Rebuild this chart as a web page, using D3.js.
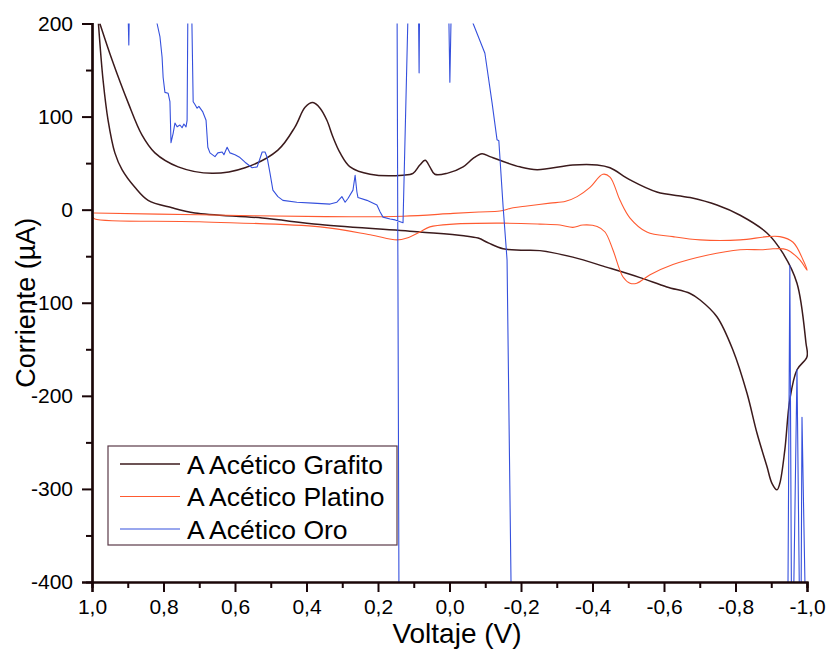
<!DOCTYPE html>
<html>
<head>
<meta charset="utf-8">
<script src="https://cdn.jsdelivr.net/npm/d3@7"></script>
<style>
  body { margin: 0; background: #fff; }
  svg { display: block; font-family: "Liberation Sans", Arial, sans-serif; }
</style>
</head>
<body>
<div class="graphic"></div>
<script>
// series names
const seriesNames = ["A Acético Grafito", "A Acético Platino", "A Acético Oro"];

// axis ticks
const xTicks = [1.0, 0.8, 0.6, 0.4, 0.2, 0.0, -0.2, -0.4, -0.6, -0.8, -1.0];
const xMinor = [0.9, 0.7, 0.5, 0.3, 0.1, -0.1, -0.3, -0.5, -0.7, -0.9];
const yTicks = [200, 100, 0, -100, -200, -300, -400];
const yMinor = [150, 50, -50, -150, -250, -350];

// Grafito: [voltage V, current uA]
const grafito = [
  [0.978, 200], [0.944, 161], [0.899, 115], [0.860, 80], [0.824, 61], [0.759, 46], [0.664, 39],
  [0.572, 45], [0.480, 64], [0.432, 89], [0.404, 110], [0.382, 115], [0.362, 109], [0.343, 96],
  [0.326, 78], [0.306, 61], [0.278, 46], [0.222, 38], [0.130, 37], [0.102, 39], [0.083, 48],
  [0.068, 53], [0.055, 46], [0.041, 38], [0.007, 39], [-0.038, 46], [-0.066, 55], [-0.091, 60],
  [-0.113, 57], [-0.141, 53], [-0.197, 46], [-0.245, 43], [-0.345, 48], [-0.413, 48],
  [-0.449, 45], [-0.505, 32], [-0.580, 19], [-0.673, 13], [-0.748, 5], [-0.813, -6],
  [-0.888, -25], [-0.933, -47], [-0.972, -79], [-0.997, -143], [-1.0, -158],
  [-0.972, -172], [-0.952, -204], [-0.938, -258], [-0.924, -294], [-0.916, -301],
  [-0.902, -294], [-0.888, -276], [-0.860, -240], [-0.832, -197], [-0.793, -151],
  [-0.748, -115], [-0.701, -97], [-0.673, -90], [-0.608, -83], [-0.533, -73], [-0.441, -62],
  [-0.345, -51], [-0.253, -44], [-0.200, -43.5], [-0.150, -42], [-0.110, -36], [-0.080, -30.5],
  [-0.040, -28], [0.083, -24], [0.362, -16], [0.524, -9], [0.712, -3.5], [0.776, 2], [0.843, 10],
  [0.880, 24], [0.916, 43], [0.936, 61], [0.955, 96], [0.969, 139], [0.982, 200]
];

// Platino
const platino = [
  [0.995, -3.5], [0.700, -5.5], [0.348, -7.5], [0.130, -7], [-0.010, -4], [-0.085, -2.5],
  [-0.141, -1.5], [-0.178, 2], [-0.217, 4], [-0.281, 7], [-0.325, 9], [-0.357, 14],
  [-0.393, 24], [-0.429, 38], [-0.449, 35], [-0.477, 10], [-0.505, -9], [-0.552, -24],
  [-0.625, -29], [-0.701, -32.5], [-0.813, -32.5], [-0.888, -29], [-0.924, -29],
  [-0.961, -35], [-0.989, -54], [-1.0, -65], [-0.980, -54], [-0.944, -43], [-0.905, -42],
  [-0.877, -43], [-0.813, -43], [-0.720, -49], [-0.625, -59], [-0.561, -70], [-0.524, -79],
  [-0.505, -79], [-0.485, -72], [-0.457, -43], [-0.435, -24], [-0.413, -18], [-0.373, -16.5],
  [-0.345, -19], [-0.309, -16.5], [-0.253, -15.5], [-0.150, -14.5], [-0.010, -15.5],
  [0.055, -18.5], [0.083, -24], [0.119, -30.5], [0.147, -32.5], [0.222, -27], [0.362, -18.5],
  [0.700, -13], [0.992, -10], [0.997, -8]
];

// Oro (noisy, runs off scale; null marks a gap in the record)
const oro = [
  [0.902, 260], [0.897, 177], [0.894, 260], null,
  [0.820, 230], [0.818, 200], [0.810, 186], [0.804, 164], [0.801, 142], [0.796, 126],
  [0.787, 125], [0.782, 116], [0.779, 72], [0.773, 82], [0.768, 93], [0.762, 89], [0.754, 91],
  [0.748, 88], [0.743, 92], [0.737, 89], [0.734, 96], [0.731, 260], [0.723, 260], [0.717, 116],
  [0.712, 113], [0.706, 109], [0.701, 111], [0.690, 105], [0.681, 96], [0.676, 67], [0.670, 61],
  [0.656, 57], [0.648, 61], [0.636, 62], [0.631, 59], [0.622, 67], [0.614, 61], [0.600, 59],
  [0.586, 56], [0.572, 51], [0.552, 45], [0.538, 46], [0.524, 62], [0.516, 62], [0.510, 56],
  [0.502, 39], [0.494, 21], [0.480, 14], [0.466, 10], [0.427, 8], [0.382, 7], [0.334, 6],
  [0.315, 8], [0.301, 14], [0.292, 8], [0.284, 12], [0.270, 21], [0.264, 37], [0.259, 19],
  [0.256, 13], [0.231, 10], [0.203, 5], [0.194, -2.5], [0.186, -8], [0.166, -10], [0.152, -11],
  [0.130, -14], [0.113, 260], null,
  [0.147, 260], [0.141, -460], null,
  [0.088, 260], [0.085, 147], [0.083, 260], null,
  [0.004, 260], [-0.001, 137], [-0.007, 260], null,
  [-0.045, 260], [-0.066, 200], [-0.099, 168], [-0.119, 115], [-0.133, 75], [-0.138, 74],
  [-0.150, 3], [-0.161, -54], [-0.174, -460], null,
  [-0.946, -460], [-0.952, -60], [-0.957, -460], [-0.961, -460], [-0.972, -172],
  [-0.980, -460], [-0.983, -460], [-0.986, -223], [-0.997, -460]
];

const colors = ["#3b1a1c", "#ff5a30", "#3550dd"];
const widths = [1.5, 1.1, 1.1];

const W = 832, H = 651;
const svg = d3.select(".graphic")
  .append("svg")
  .attr("width", W)
  .attr("height", H);

const x = d3.scaleLinear().domain([1, -1]).range([92, 807]);
const y = d3.scaleLinear().domain([-400, 200]).range([582, 23.5]);

const fmtX = d => d3.format(".1f")(d).replace(".", ",").replace("−", "-");

svg.append("clipPath").attr("id", "plot")
  .append("rect")
  .attr("x", x(1)).attr("y", y(200))
  .attr("width", x(-1) - x(1) + 1).attr("height", y(-400) - y(200));

const smooth = d3.line()
  .curve(d3.curveCatmullRom.alpha(0.5))
  .x(d => x(d[0]))
  .y(d => y(d[1]));

const jagged = d3.line()
  .defined(d => d !== null)
  .x(d => x(d[0]))
  .y(d => y(d[1]));

const plot = svg.append("g").attr("clip-path", "url(#plot)");
[grafito, platino, oro].forEach((data, i) => {
  plot.append("path")
    .datum(data)
    .attr("d", i < 2 ? smooth : jagged)
    .attr("fill", "none")
    .attr("stroke", colors[i])
    .attr("stroke-width", widths[i])
    .attr("stroke-linejoin", "round");
});

// axes
const axisColor = "#1a0608";
svg.append("g").attr("transform", `translate(${x(1)},0)`)
  .call(d3.axisLeft(y).tickValues(yTicks).tickSize(10).tickPadding(9)
    .tickFormat(d => d3.format("d")(d).replace("−", "-")));
svg.append("g").attr("transform", `translate(${x(1)},0)`)
  .call(d3.axisLeft(y).tickValues(yMinor).tickSize(6).tickFormat(""));

svg.append("g").attr("transform", `translate(0,${y(-400)})`)
  .call(d3.axisBottom(x).tickValues(xTicks).tickSize(10).tickPadding(7).tickFormat(fmtX));
svg.append("g").attr("transform", `translate(0,${y(-400)})`)
  .call(d3.axisBottom(x).tickValues(xMinor).tickSize(6).tickFormat(""));

svg.selectAll(".domain").attr("stroke", axisColor).attr("stroke-width", 2.2);
svg.selectAll(".tick line").attr("stroke", axisColor).attr("stroke-width", 2);
svg.selectAll(".tick text")
  .attr("fill", "#000")
  .attr("font-size", 21)
  .attr("font-family", "Liberation Sans, Arial, sans-serif");

// axis titles
svg.append("text")
  .attr("transform", `translate(35,${y(-100)}) rotate(-90)`)
  .attr("text-anchor", "middle")
  .attr("font-size", 27)
  .text("Corriente (µA)");

svg.append("text")
  .attr("x", 457)
  .attr("y", 643)
  .attr("text-anchor", "middle")
  .attr("font-size", 28)
  .text("Voltaje (V)");

// legend
const legend = svg.append("g");
legend.append("rect")
  .attr("x", 108).attr("y", 446)
  .attr("width", 289).attr("height", 99)
  .attr("fill", "#fff")
  .attr("stroke", "#5a3a48")
  .attr("stroke-width", 1.2);

seriesNames.forEach((name, i) => {
  const ly = 464 + i * 32.5;
  legend.append("line")
    .attr("x1", 120).attr("x2", 180)
    .attr("y1", ly).attr("y2", ly)
    .attr("stroke", colors[i])
    .attr("stroke-width", i === 0 ? 1.5 : 1.1);
  legend.append("text")
    .attr("x", 187).attr("y", ly + 9.5)
    .attr("font-size", 26.5)
    .text(name);
});
</script>
</body>
</html>
